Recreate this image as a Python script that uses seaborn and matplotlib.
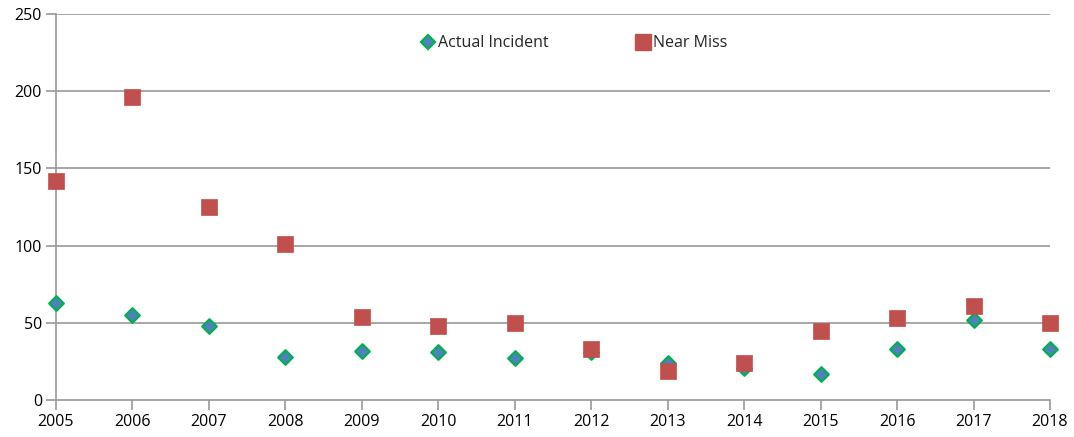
import matplotlib
matplotlib.use("Agg")
import matplotlib.pyplot as plt
import seaborn as sns
import pandas as pd
from matplotlib.lines import Line2D

years = list(range(2005, 2019))
actual_incident = [63, 55, 48, 28, 32, 31, 27, 31, 24, 21, 17, 33, 52, 33]
near_miss = [142, 196, 125, 101, 54, 48, 50, 33, 19, 24, 45, 53, 61, 50]
y_ticks = [0, 50, 100, 150, 200, 250]

sns.set_theme(style="white")
plt.rcParams["font.family"] = ["Open Sans", "DejaVu Sans"]

df = pd.DataFrame({"Year": years, "Actual Incident": actual_incident, "Near Miss": near_miss})

fig = plt.figure(figsize=(10.74, 4.37), dpi=100)
ax = fig.add_axes([56 / 1074, 1 - 400 / 437, (1050 - 56) / 1074, (400 - 14) / 437])

grid_color = "#989898"
for y in y_ticks[1:]:
    ax.axhline(y, color=grid_color, lw=1.2, zorder=0)

sns.scatterplot(data=df, x="Year", y="Actual Incident", ax=ax, marker="D", s=55,
                color="#4F81BD", edgecolor="#00B050", linewidth=1.6, zorder=3)
sns.scatterplot(data=df, x="Year", y="Near Miss", ax=ax, marker="s", s=125,
                color="#C0504D", edgecolor="#C0504D", linewidth=0.5, zorder=4)
for coll in ax.collections:
    coll.set_clip_on(False)

ax.set_xlim(2005, 2018)
ax.set_ylim(0, 250)
ax.set_xticks(years)
ax.set_yticks(y_ticks)
ax.set_xlabel("")
ax.set_ylabel("")
for side in ["top", "right"]:
    ax.spines[side].set_visible(False)
for side in ["left", "bottom"]:
    ax.spines[side].set_color(grid_color)
    ax.spines[side].set_linewidth(1.2)
    ax.spines[side].set_zorder(1)
ax.tick_params(axis="both", which="both", direction="out", length=7, width=1.2,
               color=grid_color, labelsize=11.5, labelcolor="black", left=True, bottom=True)
ax.tick_params(axis="x", pad=3)
ax.tick_params(axis="y", pad=3)

handles = [
    Line2D([], [], marker="D", linestyle="none", markersize=7, markerfacecolor="#4F81BD",
           markeredgecolor="#00B050", markeredgewidth=1.6, label="Actual Incident"),
    Line2D([], [], marker="s", linestyle="none", markersize=11, markerfacecolor="#C0504D",
           markeredgecolor="#C0504D", label="Near Miss"),
]
ax.legend(handles=handles, loc="upper center", bbox_to_anchor=(0.52, 0.982), ncol=2,
          frameon=False, fontsize=11.5, columnspacing=5.3, handletextpad=0.05, handlelength=1.2)

fig.savefig("out.png", dpi=100)
